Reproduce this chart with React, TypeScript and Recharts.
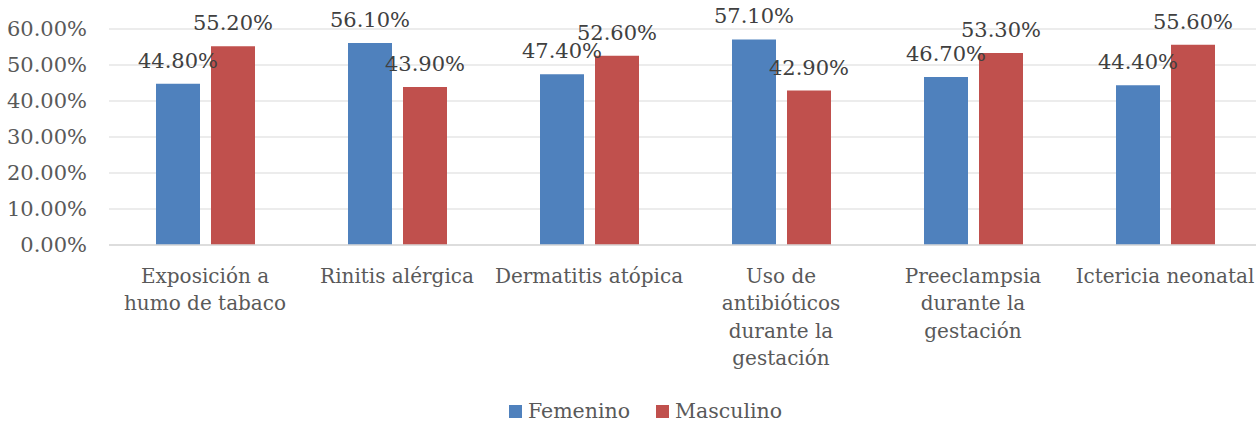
import React from 'react';
import { BarChart, Bar, XAxis, YAxis, CartesianGrid, LabelList, Legend } from 'recharts';

const categories = [
  'Exposición a\nhumo de tabaco',
  'Rinitis alérgica',
  'Dermatitis atópica',
  'Uso de\nantibióticos\ndurante la\ngestación',
  'Preeclampsia\ndurante la\ngestación',
  'Ictericia neonatal',
];
const femenino = [44.8, 56.1, 47.4, 57.1, 46.7, 44.4];
const masculino = [55.2, 43.9, 52.6, 42.9, 53.3, 55.6];
const yTicks = [0, 10, 20, 30, 40, 50, 60];
const seriesNames = ['Femenino', 'Masculino'];
const seriesColors = ['#4f81bd', '#c0504d'];

const data = categories.map((c, i) => ({ name: c, fem: femenino[i], mas: masculino[i] }));

const NUM_FONT = '"DejaVu Serif", serif';
const TXT_FONT = '"DejaVu Serif", serif';
const fmt = (v: number) => `${v.toFixed(2)}%`;

const CategoryTick = (props: any) => {
  const { x, y, payload } = props;
  const lines = String(payload.value).split('\n');
  return (
    <text x={x} y={y} textAnchor="middle" fill="#595959" fontFamily={TXT_FONT} fontSize={20}>
      {lines.map((l, i) => (
        <tspan key={i} x={x} dy={i === 0 ? 38 : 27.3}>
          {l}
        </tspan>
      ))}
    </text>
  );
};

const LegendContent = () => (
  <div
    style={{
      height: 30,
      display: 'flex',
      justifyContent: 'center',
      alignItems: 'center',
      paddingTop: 8,
      paddingLeft: 30,
      boxSizing: 'border-box',
      fontFamily: TXT_FONT,
      fontSize: 20.5,
      color: '#595959',
    }}
  >
    {seriesNames.map((n, i) => (
      <div key={n} style={{ display: 'flex', alignItems: 'center', marginRight: i === 0 ? 26 : 0 }}>
        <div style={{ width: 13, height: 13, background: seriesColors[i], marginRight: 6 }} />
        <span>{n}</span>
      </div>
    ))}
  </div>
);

export default function App() {
  return (
    <div style={{ position: 'absolute', left: 0, top: 0, width: 1256, height: 422, overflow: 'hidden', background: '#fff' }}>
      <BarChart
        width={1261}
        height={422}
        data={data}
        margin={{ top: 29, right: 0, left: 0, bottom: 0 }}
        barCategoryGap={47}
        barGap={11}
      >
        <CartesianGrid vertical={false} stroke="#d9d9d9" strokeWidth={1.2} />
        <XAxis
          dataKey="name"
          height={147}
          tickLine={false}
          tickSize={0}
          tickMargin={0}
          axisLine={{ stroke: '#d9d9d9', strokeWidth: 1.5 }}
          tick={<CategoryTick />}
          interval={0}
        />
        <YAxis
          width={109}
          domain={[0, 60]}
          ticks={yTicks}
          tickFormatter={fmt}
          tickLine={false}
          axisLine={false}
          tickSize={0}
          tickMargin={22}
          tick={{ fill: '#595959', fontFamily: NUM_FONT, fontSize: 21 }}
        />
        <Legend verticalAlign="bottom" height={30} content={<LegendContent />} />
        <Bar dataKey="fem" name={seriesNames[0]} fill={seriesColors[0]} isAnimationActive={false}>
          <LabelList dataKey="fem" position="top" offset={16} formatter={(v: any) => fmt(Number(v))} fill="#404040" fontFamily={NUM_FONT} fontSize={21} />
        </Bar>
        <Bar dataKey="mas" name={seriesNames[1]} fill={seriesColors[1]} isAnimationActive={false}>
          <LabelList dataKey="mas" position="top" offset={16} formatter={(v: any) => fmt(Number(v))} fill="#404040" fontFamily={NUM_FONT} fontSize={21} />
        </Bar>
      </BarChart>
    </div>
  );
}
